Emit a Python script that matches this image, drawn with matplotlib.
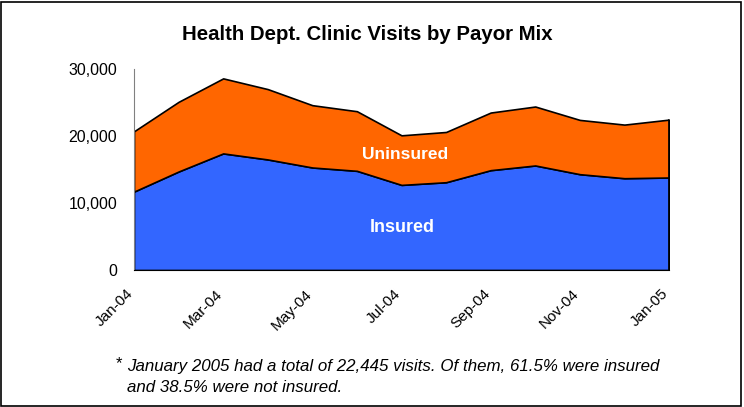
import matplotlib.pyplot as plt
import matplotlib.patches as mpatches
import matplotlib.transforms as mtransforms
from matplotlib.ticker import FuncFormatter

plt.rcParams['font.family'] = ['Liberation Sans', 'DejaVu Sans']

months = ["Jan-04", "Feb-04", "Mar-04", "Apr-04", "May-04", "Jun-04", "Jul-04",
          "Aug-04", "Sep-04", "Oct-04", "Nov-04", "Dec-04", "Jan-05"]
insured = [11700, 14700, 17400, 16500, 15300, 14800, 12700,
           13100, 14900, 15600, 14300, 13700, 13804]
uninsured = [9000, 10400, 11200, 10500, 9300, 8900, 7400,
             7500, 8600, 8800, 8100, 8000, 8641]

blue = "#3366FF"
orange = "#FF6600"


def main():
    fig = plt.figure(figsize=(7.44, 4.07), dpi=100)
    ax = fig.add_axes([134 / 744, 137 / 407, 535 / 744, 201 / 407])

    x = list(range(len(months)))
    total = [a + b for a, b in zip(insured, uninsured)]
    ax.fill_between(x, 0, insured, color=blue, edgecolor="black", linewidth=1.2)
    ax.fill_between(x, insured, total, color=orange, edgecolor="black", linewidth=1.2)
    ax.plot([x[-1], x[-1]], [0, total[-1]], color="black", linewidth=1.2)

    ax.set_xlim(0, len(months) - 1)
    ax.set_ylim(0, 30000)
    ax.set_yticks([0, 10000, 20000, 30000])
    ax.yaxis.set_major_formatter(FuncFormatter(lambda v, p: f"{int(v):,}"))
    ax.set_xticks(x[::2])
    ax.set_xticklabels(months[::2], rotation=45, ha="right", rotation_mode="anchor")
    ax.tick_params(length=0, labelsize=11.5, pad=12)
    ax.tick_params(axis="x", labelsize=11, pad=12)
    # shift the slanted month labels a little to the left, like the original
    shift = mtransforms.ScaledTranslation(-0.08, 0, fig.dpi_scale_trans)
    for lbl in ax.get_xticklabels():
        lbl.set_transform(lbl.get_transform() + shift)

    for side in ("top", "right"):
        ax.spines[side].set_visible(False)
    ax.spines["left"].set_color("#808080")
    ax.spines["bottom"].set_color("black")

    ax.text(6.07, 17200, "Uninsured", color="white", fontsize=12.5, fontweight="bold",
            ha="center", va="center")
    ax.text(6.02, 6300, "Insured", color="white", fontsize=13, fontweight="bold",
            ha="center", va="center")

    fig.text(367 / 744, 1 - 35 / 407, "Health Dept. Clinic Visits by Payor Mix",
             fontsize=14.7, fontweight="bold", ha="center", va="center")
    fig.text(116 / 744, 1 - 364 / 407, "*", fontsize=12, ha="left", va="center")
    fig.text(127 / 744, 1 - 367 / 407,
             "January 2005 had a total of 22,445 visits. Of them, 61.5% were insured",
             fontsize=12.2, style="italic", ha="left", va="center")
    fig.text(127 / 744, 1 - 388 / 407, "and 38.5% were not insured.",
             fontsize=12.2, style="italic", ha="left", va="center")

    fig.patches.append(mpatches.Rectangle((0.002, 0.003), 0.994, 0.993, transform=fig.transFigure,
                                          fill=False, edgecolor="black", linewidth=1.2))

    fig.savefig("out.png", dpi=100)
    plt.close(fig)


if __name__ == "__main__":
    main()
